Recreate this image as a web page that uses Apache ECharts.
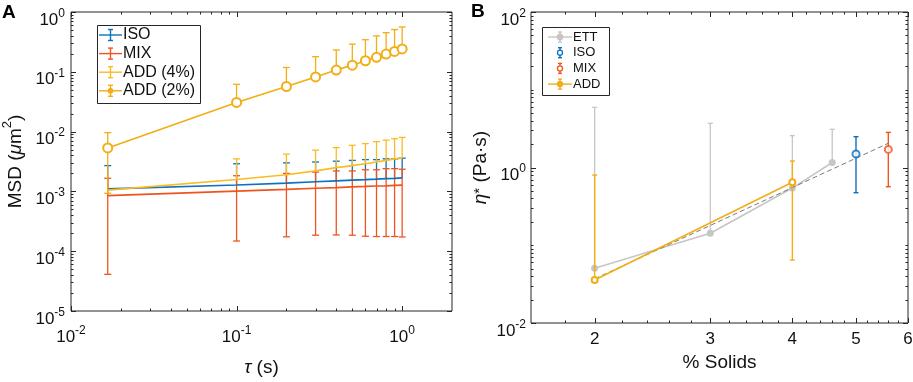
<!DOCTYPE html>
<html><head><meta charset="utf-8">
<script src="https://cdn.jsdelivr.net/npm/echarts@6/dist/echarts.min.js"></script>
<style>html,body{margin:0;padding:0;background:#fff}#c{width:913px;height:382px}</style>
</head><body><div id="c"></div>
<script>
// ---------------- Panel A data (MSD vs tau) ----------------
const tauA   = [1/60, 0.1, 0.2, 0.3, 0.4, 0.5, 0.6, 0.7, 0.8, 0.9, 1.0];
const isoA   = [0.0011, 0.00128, 0.00138, 0.00145, 0.0015, 0.00154, 0.00157, 0.0016, 0.00163, 0.00165, 0.00168];
const isoAHi = [0.0027, 0.0029, 0.0030, 0.0031, 0.0032, 0.0033, 0.0034, 0.0034, 0.0035, 0.0035, 0.0036];
const isoALo = [null, null, null, null, null, null, null, null, null, null, null];
const mixA   = [0.00085, 0.00101, 0.00108, 0.00113, 0.00116, 0.00119, 0.00121, 0.00123, 0.00124, 0.00126, 0.00127];
const mixAHi = [0.00166, 0.00183, 0.0020, 0.0021, 0.0022, 0.0022, 0.0023, 0.0023, 0.0024, 0.0024, 0.00235];
const mixALo = [0.000041, 0.000148, 0.000174, 0.000185, 0.000187, 0.000185, 0.000178, 0.000176, 0.000176, 0.000176, 0.000173];
const add4A   = [0.00105, 0.00158, 0.0019, 0.0022, 0.0025, 0.0027, 0.0029, 0.0031, 0.0033, 0.0035, 0.0036];
const add4AHi = [null, 0.0035, 0.0042, 0.0049, 0.0054, 0.0059, 0.0063, 0.0068, 0.0072, 0.0076, 0.0080];
const add4ALo = [null, null, null, null, null, null, null, null, null, null, null];
const add2A   = [0.00533, 0.0307, 0.0568, 0.082, 0.107, 0.129, 0.153, 0.175, 0.198, 0.219, 0.241];
const add2AHi = [0.0096, 0.0618, 0.118, 0.179, 0.232, 0.29, 0.344, 0.399, 0.451, 0.509, 0.562];
const add2ALo = [0.00093, null, null, null, null, null, null, null, null, null, null];

// ---------------- Panel B data (eta* vs % solids) ----------------
const solidsETT = [2, 3, 4, 4.6];
const ettB      = [0.0505, 0.1425, 0.544, 1.16];
const ettBHi    = [5.94, 3.7, 2.57, 3.1];
const ettBLo    = [null, null, null, null];
const solidsISO = [5];
const isoB = [1.49], isoBHi = [2.49], isoBLo = [0.474];
const solidsMIX = [5.6];
const mixB = [1.71], mixBHi = [2.83], mixBLo = [0.566];
const solidsADD = [2, 4];
const addB   = [0.0357, 0.646];
const addBHi = [0.80, 1.21];
const addBLo = [null, 0.0646];
const fitX = [2, 5.6];
const fitY = [0.037, 2.05];

// ---------------- ticks ----------------
const aXMajor = [0.01, 0.1, 1];
const aXMinor = [0.02,0.03,0.04,0.05,0.06,0.07,0.08,0.09,0.2,0.3,0.4,0.5,0.6,0.7,0.8,0.9];
const aYMajor = [1e-5, 1e-4, 1e-3, 1e-2, 1e-1, 1];
const bXMajor = [2, 3, 4, 5, 6];
const bXLabels = ['2', '3', '4', '5', '6'];
const bXMinor = [1.8,2.2,2.4,2.6,2.8,3.2,3.4,3.6,3.8,4.2,4.4,4.6,4.8,5.2,5.4,5.6,5.8];
const bYMajor = [0.01, 1, 100];
const mults = [2,3,4,5,6,7,8,9];
const aYMinor = [];
[-5,-4,-3,-2,-1].forEach(n => mults.forEach(k => aYMinor.push(+(k*Math.pow(10,n)).toPrecision(6))));
const bYMinor = [0.1, 10];
[-2,-1,0,1].forEach(n => mults.forEach(k => bYMinor.push(+(k*Math.pow(10,n)).toPrecision(6))));

const rangeA = {x:[0.01, 2], y:[1e-5, 1]};
const rangeB = {x:[1.6, 6], y:[0.01, 100]};

const FONT = '"Liberation Sans", Arial, Helvetica, sans-serif';
const AXC = '#262626';
const TXT = '#111111';
const C_ISO = '#0b72bd', C_MIX = '#f0541e', C_ADD4 = '#fbbb22', C_ADD2 = '#f2ae14', C_ETT = '#c6c6c6';

function tickSeries(gi, range, xMaj, xMin, yMaj, yMin, xLabels) {
  const specs = [];
  xMaj.forEach((v,i) => specs.push({a:'x', v, len:5, lab: xLabels ? xLabels[i] : null}));
  xMin.forEach(v => specs.push({a:'x', v, len:2.5}));
  yMaj.forEach(v => specs.push({a:'y', v, len:5}));
  yMin.forEach(v => specs.push({a:'y', v, len:2.5}));
  return {
    type:'custom', xAxisIndex:gi, yAxisIndex:gi, silent:true, z:10,
    data: specs.map(s => s.a === 'x' ? [s.v, range.y[0]] : [range.x[0], s.v]),
    renderItem: (params, api) => {
      const s = specs[params.dataIndex];
      const st = {stroke:AXC, lineWidth:1, fill:null};
      const ch = [];
      if (s.a === 'x') {
        const b = api.coord([s.v, range.y[0]]), t = api.coord([s.v, range.y[1]]);
        const x = Math.round(b[0]) + 0.5;
        ch.push({type:'line', shape:{x1:x, y1:b[1], x2:x, y2:b[1]-s.len}, style:st});
        ch.push({type:'line', shape:{x1:x, y1:t[1], x2:x, y2:t[1]+s.len}, style:st});
        if (s.lab) ch.push({type:'text', x:b[0], y:b[1]+8, style:{text:s.lab, font:'17px '+FONT, fill:TXT,
          align:'center', verticalAlign:'top', textAlign:'center', textVerticalAlign:'top'}});
      } else {
        const l = api.coord([range.x[0], s.v]), r = api.coord([range.x[1], s.v]);
        const y = Math.round(l[1]) + 0.5;
        ch.push({type:'line', shape:{x1:l[0], y1:y, x2:l[0]+s.len, y2:y}, style:st});
        ch.push({type:'line', shape:{x1:r[0], y1:y, x2:r[0]-s.len, y2:y}, style:st});
      }
      return {type:'group', children:ch};
    }
  };
}

function errSeries(gi, xs, ys, lo, hi, color, cap, lw, z) {
  return {
    type:'custom', xAxisIndex:gi, yAxisIndex:gi, silent:true, z,
    data: xs.map((x,i) => [x, ys[i]]),
    renderItem: (params, api) => {
      const i = params.dataIndex;
      const p = api.coord([xs[i], ys[i]]);
      const x = p[0];
      const top = hi[i] != null ? api.coord([xs[i], hi[i]])[1] : p[1];
      const bot = lo[i] != null ? api.coord([xs[i], lo[i]])[1] : p[1];
      const st = {stroke:color, lineWidth:lw, fill:null};
      const ch = [{type:'line', shape:{x1:x, y1:top, x2:x, y2:bot}, style:st}];
      if (hi[i] != null) ch.push({type:'line', shape:{x1:x-cap, y1:top, x2:x+cap, y2:top}, style:st});
      if (lo[i] != null) ch.push({type:'line', shape:{x1:x-cap, y1:bot, x2:x+cap, y2:bot}, style:st});
      return {type:'group', children:ch};
    }
  };
}

function pairs(xs, ys) { return xs.map((x,i) => [x, ys[i]]); }
function isPow10(v) { const l = Math.log10(v); return Math.abs(l - Math.round(l)) < 1e-6; }
function expLabel(v) { return '{b|10}{s|' + Math.round(Math.log10(v)) + '}'; }

const richX = {
  b:{fontSize:17, fontFamily:FONT, color:TXT, padding:[4,0,0,0]},
  s:{fontSize:12, fontFamily:FONT, color:TXT, verticalAlign:'top'}
};
const richY = {
  b:{fontSize:17, fontFamily:FONT, color:TXT, padding:[16,0,0,0]},
  s:{fontSize:12, fontFamily:FONT, color:TXT, verticalAlign:'top', padding:[12,0,0,0]}
};
const nameRich = {
  t:{fontSize:19, fontFamily:FONT, color:TXT, padding:[5,0,0,0]},
  i:{fontSize:19, fontFamily:FONT, color:TXT, fontStyle:'italic', padding:[5,0,0,0]},
  s:{fontSize:13, fontFamily:FONT, color:TXT, verticalAlign:'top'}
};
const nameRichB = {
  t:{fontSize:19, fontFamily:FONT, color:TXT, padding:[4,0,0,0]},
  i:{fontSize:19, fontFamily:FONT, color:TXT, fontStyle:'italic', padding:[4,0,0,0]},
  s:{fontSize:15, fontFamily:FONT, color:TXT, verticalAlign:'top', padding:[5,0,0,0]}
};

function legendItem(x0, x1, y, color, opts) {
  const els = [];
  const cx = (x0 + x1) / 2;
  const st = {stroke:color, lineWidth:1.4, fill:null};
  if (opts.line) els.push({type:'line', shape:{x1:x0, y1:y, x2:x1, y2:y}, style:st});
  els.push({type:'line', shape:{x1:cx, y1:y-opts.h, x2:cx, y2:y+opts.h}, style:st});
  els.push({type:'line', shape:{x1:cx-opts.cap, y1:y-opts.h, x2:cx+opts.cap, y2:y-opts.h}, style:st});
  els.push({type:'line', shape:{x1:cx-opts.cap, y1:y+opts.h, x2:cx+opts.cap, y2:y+opts.h}, style:st});
  if (opts.dot) els.push({type:'circle', shape:{cx, cy:y, r:opts.dot}, style:{fill:color, stroke:color, lineWidth:1}});
  if (opts.ring) els.push({type:'circle', shape:{cx, cy:y, r:opts.ring}, style:{fill:'#fff', stroke:color, lineWidth:1.3}});
  els.push({type:'text', x:x1+1, y, style:{text:opts.text, font:opts.font+' '+FONT, fill:TXT,
    align:'left', verticalAlign:'middle', textAlign:'left', textVerticalAlign:'middle'}});
  return els;
}

const legendA = [{type:'rect', shape:{x:97.5, y:25.5, width:103, height:78}, style:{fill:'#fff', stroke:AXC, lineWidth:1}}];
[['ISO', C_ISO, false], ['MIX', C_MIX, false], ['ADD (4%)', C_ADD4, false], ['ADD (2%)', C_ADD2, true]].forEach((e, i) => {
  legendItem(99, 122, 35 + 18.6*i, e[1], {line:true, h:5.5, cap:2.5, text:e[0], font:'16px', dot:e[2] ? 2.5 : 0}).forEach(el => legendA.push(el));
});
const legendB = [{type:'rect', shape:{x:542.5, y:27.5, width:67, height:68}, style:{fill:'#fff', stroke:AXC, lineWidth:1}}];
[['ETT', C_ETT, true, 3, 0], ['ISO', C_ISO, false, 0, 2.5], ['MIX', C_MIX, false, 0, 2.5], ['ADD', C_ADD2, true, 2.8, 0]].forEach((e, i) => {
  legendItem(548, 572, 37 + 15.7*i, e[1], {line:e[2], h:5, cap:2, text:e[0], font:'13px', dot:e[3], ring:e[4]}).forEach(el => legendB.push(el));
});

const chart = echarts.init(document.getElementById('c'), null, {renderer:'canvas'});
chart.setOption({
  backgroundColor:'#fff',
  animation:false,
  grid:[
    {left:69, top:12, width:383, height:313, show:true, borderColor:AXC, borderWidth:1, backgroundColor:'#fff'},
    {left:531, top:12, width:377, height:311, show:true, borderColor:AXC, borderWidth:1, backgroundColor:'#fff'}
  ],
  xAxis:[
    {type:'log', logBase:10, gridIndex:0, min:rangeA.x[0], max:rangeA.x[1],
     axisLine:{show:false}, axisTick:{show:false}, splitLine:{show:false},
     axisLabel:{margin:14, formatter:v => isPow10(v) ? expLabel(v) : '', rich:richX},
     name:'{i|τ}{t| (s)}', nameLocation:'middle', nameGap:42, nameTextStyle:{rich:nameRich}},
    {type:'log', logBase:10, gridIndex:1, min:rangeB.x[0], max:rangeB.x[1],
     axisLine:{show:false}, axisTick:{show:false}, splitLine:{show:false}, axisLabel:{show:false},
     name:'% Solids', nameLocation:'middle', nameGap:30,
     nameTextStyle:{fontSize:19, fontFamily:FONT, color:TXT}}
  ],
  yAxis:[
    {type:'log', logBase:10, gridIndex:0, min:rangeA.y[0], max:rangeA.y[1],
     axisLine:{show:false}, axisTick:{show:false}, splitLine:{show:false},
     axisLabel:{margin:6, formatter:v => isPow10(v) ? expLabel(v) : '', rich:richY},
     name:'{t|MSD (}{i|μ}{t|m}{s|2}{t|)}', nameLocation:'middle', nameGap:46, nameTextStyle:{rich:nameRich}},
    {type:'log', logBase:10, gridIndex:1, min:rangeB.y[0], max:rangeB.y[1],
     axisLine:{show:false}, axisTick:{show:false}, splitLine:{show:false},
     axisLabel:{margin:5, formatter:v => (isPow10(v) && Math.round(Math.log10(v)) % 2 === 0) ? expLabel(v) : '', rich:richY},
     name:'{i|η}{s|*}{t| (Pa·s)}', nameLocation:'middle', nameGap:41, nameTextStyle:{rich:nameRichB}}
  ],
  series:[
    tickSeries(0, rangeA, aXMajor, aXMinor, aYMajor, aYMinor, null),
    tickSeries(1, rangeB, bXMajor, bXMinor, bYMajor, bYMinor, bXLabels),
    // Panel A
    errSeries(0, tauA, isoA, isoALo, isoAHi, C_ISO, 3.5, 1.3, 2),
    {type:'line', xAxisIndex:0, yAxisIndex:0, data:pairs(tauA, isoA), showSymbol:false, symbol:'none',
     lineStyle:{color:C_ISO, width:1.7}, z:3},
    errSeries(0, tauA, mixA, mixALo, mixAHi, C_MIX, 3.5, 1.3, 3),
    {type:'line', xAxisIndex:0, yAxisIndex:0, data:pairs(tauA, mixA), showSymbol:false, symbol:'none',
     lineStyle:{color:C_MIX, width:1.7}, z:4},
    errSeries(0, tauA, add4A, add4ALo, add4AHi, C_ADD4, 3.5, 1.3, 4),
    {type:'line', xAxisIndex:0, yAxisIndex:0, data:pairs(tauA, add4A), showSymbol:false, symbol:'none',
     lineStyle:{color:C_ADD4, width:1.7}, z:5},
    errSeries(0, tauA, add2A, add2ALo, add2AHi, C_ADD2, 3.5, 1.3, 5),
    {type:'line', xAxisIndex:0, yAxisIndex:0, data:pairs(tauA, add2A), symbol:'emptyCircle', symbolSize:9, showSymbol:true,
     lineStyle:{color:C_ADD2, width:1.7}, itemStyle:{color:C_ADD2, borderWidth:1.4}, z:6},
    // Panel B
    errSeries(1, solidsETT, ettB, ettBLo, ettBHi, C_ETT, 2.5, 1.3, 2),
    {type:'line', xAxisIndex:1, yAxisIndex:1, data:pairs(solidsETT, ettB), symbol:'circle', symbolSize:7, showSymbol:true,
     lineStyle:{color:C_ETT, width:1.6}, itemStyle:{color:C_ETT}, z:3},
    {type:'line', xAxisIndex:1, yAxisIndex:1, data:pairs(fitX, fitY), symbol:'none', showSymbol:false,
     lineStyle:{color:'#7a7a7a', width:1, type:[5,3]}, z:4},
    errSeries(1, solidsISO, isoB, isoBLo, isoBHi, C_ISO, 2.5, 1.4, 4),
    {type:'scatter', xAxisIndex:1, yAxisIndex:1, data:pairs(solidsISO, isoB), symbol:'emptyCircle', symbolSize:7,
     itemStyle:{color:C_ISO, borderWidth:1.4}, z:5},
    errSeries(1, solidsMIX, mixB, mixBLo, mixBHi, C_MIX, 2.5, 1.4, 4),
    {type:'scatter', xAxisIndex:1, yAxisIndex:1, data:pairs(solidsMIX, mixB), symbol:'emptyCircle', symbolSize:7,
     itemStyle:{color:C_MIX, borderWidth:1.4}, z:5},
    errSeries(1, solidsADD, addB, addBLo, addBHi, C_ADD2, 2.5, 1.4, 5),
    {type:'line', xAxisIndex:1, yAxisIndex:1, data:pairs(solidsADD, addB), symbol:'emptyCircle', symbolSize:6, showSymbol:true,
     lineStyle:{color:C_ADD2, width:1.6}, itemStyle:{color:C_ADD2, borderWidth:1.3}, z:6}
  ],
  graphic:[
    {type:'group', z:100, children:legendA},
    {type:'group', z:100, children:legendB},
    {type:'text', x:2, y:3, z:100, style:{text:'A', font:'bold 19px '+FONT, fill:'#000', align:'left', verticalAlign:'top', textAlign:'left', textVerticalAlign:'top'}},
    {type:'text', x:471, y:2, z:100, style:{text:'B', font:'bold 19px '+FONT, fill:'#000', align:'left', verticalAlign:'top', textAlign:'left', textVerticalAlign:'top'}}
  ]
});
</script></body></html>
